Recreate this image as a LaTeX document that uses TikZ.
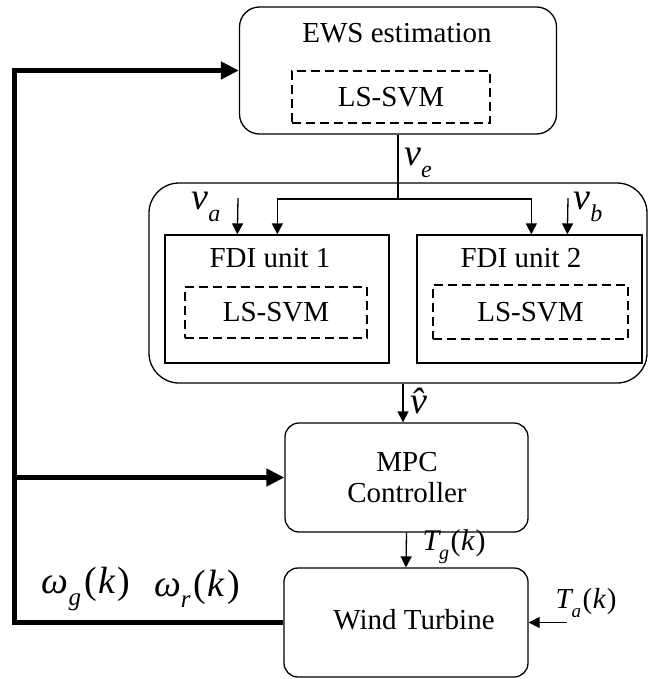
\documentclass[tikz,border=0pt]{standalone}
\usepackage{fontspec}
\setmainfont{Liberation Serif}
\usetikzlibrary{arrows.meta}
\newcommand\lsub[2]{\raisebox{-0.3em}{\fontsize{#1}{#1}\selectfont\itshape #2}}
\newcommand\lfs[1]{\fontsize{#1}{#1}\selectfont}
\newcommand\argk{\hspace{1.5pt}\upshape(\hspace{0.5pt}\itshape k\hspace{1pt}\upshape)}
\newcommand\argkw{\hspace{3pt}\upshape(\hspace{1.5pt}\itshape k\hspace{2.5pt}\upshape)}
\begin{document}
\begin{tikzpicture}[x=1pt,y=-1pt,
  rbox/.style={draw, line width=1.3pt, rounded corners=#1, inner sep=0pt},
  sbox/.style={draw, line width=1.3pt, inner sep=0pt},
  dbox/.style={draw, line width=1.3pt, dash pattern=on 9pt off 5pt, inner sep=0pt},
  txt/.style={font=\lfs{29}, inner sep=0pt},
  lab/.style={inner sep=0pt},
  conn/.style={line width=1.3pt},
  arr/.style={line width=1.3pt, -{Triangle[length=11pt,width=11pt]}},
  thickarr/.style={line width=5pt, line join=miter, -{Triangle[length=18pt,width=17pt]}}]
\useasboundingbox (0,0) rectangle (650,679);

% EWS estimation
\node[rbox=20, minimum width=317, minimum height=127] (ews) at (398,70.5) {};
\node[txt] (ewst) at (397,33) {EWS estimation};
\node[dbox, minimum width=198, minimum height=52] (ewsin) at (391,97) {};
\node[txt] (ewsl) at (391,97) {LS-SVM};

% container
\node[rbox=30, minimum width=498, minimum height=200] (cont) at (398,283) {};

% FDI units
\node[sbox, minimum width=224, minimum height=128] (fdi1) at (277,299) {};
\node[txt] (fdi1t) at (270,258) {FDI unit 1};
\node[dbox, minimum width=182, minimum height=51] (fdi1in) at (276,312.5) {};
\node[txt] (fdi1l) at (276,312.5) {LS-SVM};

\node[sbox, minimum width=225, minimum height=128] (fdi2) at (529.5,299) {};
\node[txt] (fdi2t) at (521,258) {FDI unit 2};
\node[dbox, minimum width=195, minimum height=54] (fdi2in) at (530.5,312) {};
\node[txt] (fdi2l) at (530.5,312) {LS-SVM};

% MPC and wind turbine
\node[rbox=14, minimum width=243, minimum height=109] (mpc) at (406.5,477.5) {};
\node[txt, align=center] (mpct) at (407,477.5) {MPC\\[2pt]Controller};
\node[rbox=14, minimum width=244, minimum height=109] (wt) at (406,622.5) {};
\node[txt] (wtt) at (414,620) {Wind Turbine};

% coordinates
\coordinate (br) at (398,199);
\coordinate (va) at (238,198);
\coordinate (vb) at (568,198);
\coordinate (ta) at (567,622.5);
\coordinate (lc) at (14,70.5);

% v_e branch
\draw[conn] (ews.south) -- (br);
\draw[arr] (br) -| ([xshift=113]fdi1.north west);
\draw[arr] (br) -| ([xshift=115]fdi2.north west);
\draw[arr] (va) -- ([xshift=73]fdi1.north west);
\draw[arr] (vb) -- ([xshift=151]fdi2.north west);

% v hat
\draw[arr] ([xshift=-3.5]mpc.north |- cont.south) -- ([xshift=-3.5]mpc.north);
% T_g
\draw[arr] (mpc.south) -- (wt.north);
% T_a
\draw[arr] (ta) -- (wt.east);

% feedback
\draw[thickarr] (wt.west) -| (lc) -- (ews.west);
\draw[thickarr] ([xshift=-2.5]lc |- mpc.west) -- (mpc.west);

% labels
\node[lab] (lve) at (418,163) {\lfs{38}\itshape v\lsub{24}{e}};
\node[lab] (lva) at (206,207) {\lfs{38}\itshape v\lsub{24}{a}};
\node[lab] (lvb) at (588,207) {\lfs{38}\itshape v\lsub{24}{b}};
\node[lab] (lvh) at (419,401) {\lfs{38}\itshape \^{v}};
\node[lab] (ltg) at (454,547) {\lfs{30}\itshape T\lsub{20}{g}\argk};
\node[lab] (lta) at (586,603) {\lfs{29}\itshape T\lsub{19}{a}\argk};
\node[lab] (lwg) at (86,589) {\lfs{38}\itshape ω\lsub{25}{g}\argkw};
\node[lab] (lwr) at (197,589) {\lfs{38}\itshape ω\lsub{25}{r}\argkw};
\end{tikzpicture}
\end{document}
